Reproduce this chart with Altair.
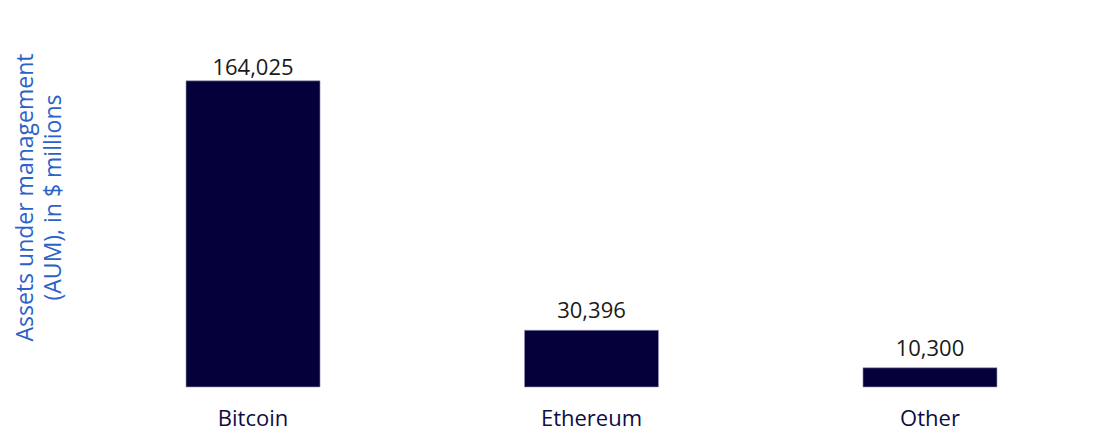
import altair as alt
import pandas as pd

categories = ["Bitcoin", "Ethereum", "Other"]
aum_values = [164025, 30396, 10300]
value_labels = ["164,025", "30,396", "10,300"]

df = pd.DataFrame({"cat": categories, "aum": aum_values, "label": value_labels})

FONT = "Open Sans"

base = alt.Chart(df).encode(
    x=alt.X(
        "cat:N",
        sort=categories,
        scale=alt.Scale(paddingInner=0.604, paddingOuter=0.195),
        axis=alt.Axis(
            title=None,
            labelAngle=0,
            labelFont=FONT,
            labelFontSize=22,
            labelColor="#0d0d45",
            labelPadding=21,
            ticks=False,
            domain=False,
            grid=False,
        ),
    ),
    y=alt.Y(
        "aum:Q",
        scale=alt.Scale(domain=[0, 180000], nice=False),
        axis=alt.Axis(
            title=["Assets under management", "(AUM), in $ millions"],
            titleFont=FONT,
            titleFontSize=23,
            titleFontWeight="normal",
            titleColor="#2a62c9",
            titleAngle=-90,
            titleAlign="center",
            titleBaseline="top",
            titleX=-106,
            titleY=146,
            titleLineHeight=28,
            labels=False,
            ticks=False,
            domain=False,
            grid=False,
        ),
    ),
)

bars = base.mark_bar(color="#05003a", stroke="#9a9ab8", strokeWidth=0.6)

texts_top = base.transform_filter(alt.datum.cat == "Bitcoin").mark_text(
    baseline="bottom", dy=-1, font=FONT, fontSize=22, color="#1a1a1a"
).encode(text="label:N")

texts = base.transform_filter(alt.datum.cat != "Bitcoin").mark_text(
    baseline="bottom", dy=-7, font=FONT, fontSize=22, color="#1a1a1a"
).encode(text="label:N")

chart = (
    (bars + texts_top + texts)
    .properties(
        width=943,
        height=336,
        autosize="none",
        background="white",
        padding={"left": 112, "top": 43, "right": 20, "bottom": 50},
    )
    .configure_view(strokeWidth=0, stroke="transparent")
)

chart.save("out.html", embed_options={"renderer": "svg", "actions": False})
